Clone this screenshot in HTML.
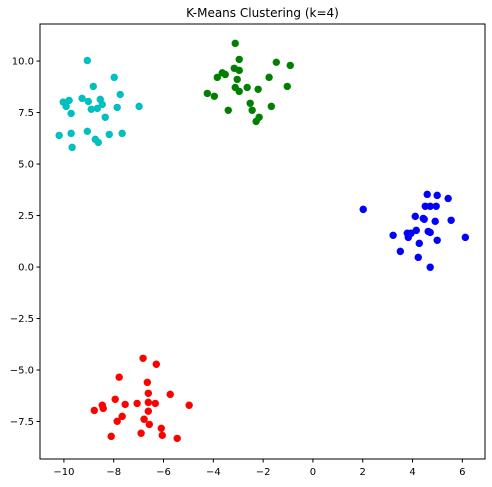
<!DOCTYPE html>
<html><head><meta charset="utf-8"><style>
body{margin:0;background:#fff;}
svg text{font-family:"DejaVu Sans","Liberation Sans",sans-serif;}
</style></head><body>
<svg id="chart" width="492" height="482" xmlns="http://www.w3.org/2000/svg">
<rect width="492" height="482" fill="#fff"/>
<text x="262.5" y="17" font-size="12" text-anchor="middle">K-Means Clustering (k=4)</text>
<g id="ticks"></g>
<g id="points"></g>
<rect x="40" y="24" width="445" height="435" fill="none" stroke="#000" stroke-width="1"/>
</svg>
<script>
const xTicks=[-10,-8,-6,-4,-2,0,2,4,6];
const yTicks=[-7.5,-5.0,-2.5,0.0,2.5,5.0,7.5,10.0];
const clusterColors=["#00bfbf","#008000","#0000ff","#ff0000"];
const cyanX=[-9.06,-7.98,-8.82,-7.74,-10.03,-9.79,-9.27,-9.02,-8.54,-8.46,-8.66,-8.90,-9.91,-9.71,-7.86,-6.98,-8.34,-10.19,-9.71,-9.06,-8.74,-8.62,-8.18,-7.66,-9.67];
const cyanY=[10.03,9.21,8.77,8.38,8.01,8.09,8.19,8.04,8.14,7.90,7.70,7.66,7.80,7.46,7.75,7.80,7.27,6.39,6.49,6.59,6.20,6.05,6.44,6.49,5.81];
const greenX=[-3.12,-2.96,-1.47,-0.91,-3.16,-2.96,-3.64,-3.52,-3.84,-1.76,-3.04,-1.03,-3.12,-2.64,-2.96,-2.20,-4.24,-3.96,-2.52,-2.44,-1.67,-3.40,-2.16,-2.28];
const greenY=[10.86,10.08,9.94,9.79,9.65,9.55,9.43,9.35,9.21,9.21,9.11,8.77,8.72,8.72,8.53,8.63,8.43,8.29,7.95,7.61,7.80,7.61,7.27,7.07];
const blueX=[4.59,4.99,5.43,2.02,4.51,4.71,4.95,4.11,4.43,4.47,4.91,5.55,3.22,3.79,3.94,4.15,3.83,4.63,4.71,6.12,4.99,4.27,3.51,4.23,4.71];
const blueY=[3.53,3.48,3.33,2.80,2.95,2.95,2.95,2.46,2.36,2.32,2.22,2.27,1.54,1.64,1.64,1.78,1.44,1.73,1.68,1.44,1.30,1.15,0.76,0.47,-0.01];
const redX=[-6.82,-6.29,-7.78,-6.65,-6.61,-5.73,-7.94,-7.54,-7.06,-6.61,-6.33,-4.97,-8.46,-8.42,-8.78,-6.61,-7.66,-6.78,-7.86,-6.57,-6.09,-8.10,-6.90,-6.05,-5.45];
const redY=[-4.43,-4.72,-5.35,-5.60,-6.13,-6.18,-6.42,-6.67,-6.62,-6.57,-6.62,-6.71,-6.71,-6.86,-6.96,-7.00,-7.25,-7.39,-7.49,-7.64,-7.83,-8.22,-8.07,-8.17,-8.32];

const L=40,R=485,T=24,B=459;
const xMin=-10.96,xMax=6.91,yMin=-9.32,yMax=11.80;
function sx(v){return L+(v-xMin)/(xMax-xMin)*(R-L);}
function sy(v){return B-(v-yMin)/(yMax-yMin)*(B-T);}
const NS="http://www.w3.org/2000/svg";
const tg=document.getElementById('ticks');
xTicks.forEach(t=>{
  const x=sx(t);
  const l=document.createElementNS(NS,'line');
  l.setAttribute('x1',x);l.setAttribute('x2',x);l.setAttribute('y1',B);l.setAttribute('y2',B+3.5);l.setAttribute('stroke','#000');
  
  
  tg.appendChild(l);
  const tx=document.createElementNS(NS,'text');
  tx.setAttribute('x',x);tx.setAttribute('y',B+16);tx.setAttribute('font-size','10');tx.setAttribute('text-anchor','middle');
  tx.textContent=(t<0?'\u2212'+(-t):String(t));
  
  
  tg.appendChild(tx);
});
yTicks.forEach(t=>{
  const y=sy(t);
  const l=document.createElementNS(NS,'line');
  l.setAttribute('x1',L-3.5);l.setAttribute('x2',L);l.setAttribute('y1',y);l.setAttribute('y2',y);l.setAttribute('stroke','#000');
  
  
  tg.appendChild(l);
  const tx=document.createElementNS(NS,'text');
  tx.setAttribute('x',L-6);tx.setAttribute('y',y+3.5);tx.setAttribute('font-size','10');tx.setAttribute('text-anchor','end');
  tx.textContent=(t<0?'\u2212'+(-t).toFixed(1):t.toFixed(1));
  
  
  tg.appendChild(tx);
});
const pg=document.getElementById('points');
const series=[[cyanX,cyanY,'cyan'],[greenX,greenY,'green'],[blueX,blueY,'blue'],[redX,redY,'red']];
series.forEach((s,i)=>{
  s[0].forEach((xv,j)=>{
    const c=document.createElementNS(NS,'circle');
    c.setAttribute('cx',sx(xv));c.setAttribute('cy',sy(s[1][j]));c.setAttribute('r','3.7');c.setAttribute('fill',clusterColors[i]);
    
    
    pg.appendChild(c);
  });
});
</script>
</body></html>
